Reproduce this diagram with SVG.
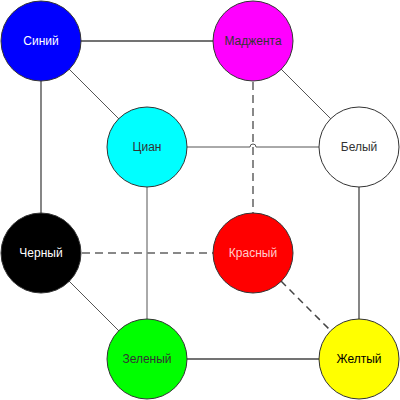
<svg xmlns="http://www.w3.org/2000/svg" width="400" height="400" viewBox="0 0 400 400">
<style>
.n{stroke:#333;stroke-width:1}
.t{font-family:"Liberation Sans",Arial,sans-serif;font-size:12px;text-anchor:middle;dominant-baseline:central}
.s{stroke:#444;stroke-width:1.3;fill:none}
.g{stroke:#555;stroke-width:1;fill:none}
.d{stroke:#888;stroke-width:2;stroke-dasharray:8 5;fill:none}
.d2{stroke:#444;stroke-width:1.5;stroke-dasharray:7 5;fill:none}
</style>
<rect width="400" height="400" fill="#fff"/>
<g id="connectors">
<line class="s" x1="81" y1="41" x2="213" y2="41"/>
<line class="g" x1="69" y1="69" x2="119" y2="119"/>
<line class="s" x1="41" y1="81" x2="41" y2="213"/>
<line class="g" x1="281" y1="69" x2="331" y2="119"/>
<path class="g" d="M187 147 H250 A3 3 0 0 1 256 147 H319"/>
<line class="g" x1="147" y1="187" x2="147" y2="319"/>
<line class="g" x1="69" y1="281" x2="119" y2="331"/>
<line class="s" x1="359" y1="187" x2="359" y2="319"/>
<line class="s" x1="187" y1="359" x2="319" y2="359"/>
<line class="d" x1="253" y1="82" x2="253" y2="213"/>
<line class="d" x1="82" y1="253" x2="213" y2="253"/>
<line class="d2" x1="281" y1="281" x2="331" y2="331"/>
</g>
<g id="sinij"><circle class="n" cx="41" cy="41" r="40" fill="#0000ff"/><text class="t" x="41" y="41" fill="#fff">Синий</text></g>
<g id="magenta"><circle class="n" cx="253" cy="41" r="40" fill="#ff00ff"/><text class="t" x="253" y="41" fill="#333">Маджента</text></g>
<g id="cyan"><circle class="n" cx="147" cy="147" r="40" fill="#00ffff"/><text class="t" x="147" y="147" fill="#333">Циан</text></g>
<g id="white"><circle class="n" cx="359" cy="147" r="40" fill="#fff"/><text class="t" x="359" y="147" fill="#333">Белый</text></g>
<g id="black"><circle class="n" cx="41" cy="253" r="40" fill="#000"/><text class="t" x="41" y="253" fill="#fff">Черный</text></g>
<g id="red"><circle class="n" cx="253" cy="253" r="40" fill="#ff0000"/><text class="t" x="253" y="253" fill="#ffcccc">Красный</text></g>
<g id="green"><circle class="n" cx="147" cy="359" r="40" fill="#00ff00"/><text class="t" x="147" y="359" fill="#333">Зеленый</text></g>
<g id="yellow"><circle class="n" cx="359" cy="359" r="40" fill="#ffff00"/><text class="t" x="359" y="359" fill="#000">Желтый</text></g>
</svg>
